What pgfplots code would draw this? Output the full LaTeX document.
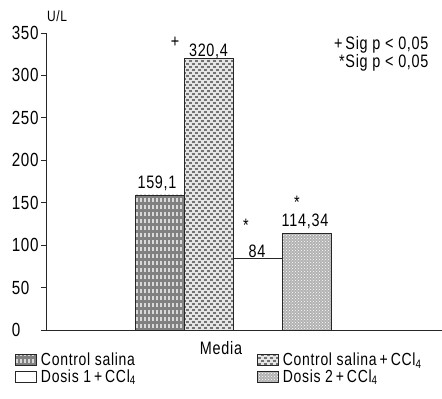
\documentclass[border=0pt]{standalone}
\usepackage{fontspec}
\setmainfont{Liberation Sans}[FakeStretch=0.8, LetterSpace=4]
\usepackage{pgfplots}
\pgfplotsset{compat=1.18}
\usetikzlibrary{patterns,calc}
\pgfdeclarepatternformonly{vdash}{\pgfqpoint{-1pt}{-1pt}}{\pgfqpoint{5pt}{8pt}}{\pgfqpoint{4pt}{7pt}}{%
  \pgfsetlinewidth{1.1pt}%
  \pgfpathmoveto{\pgfqpoint{1pt}{0.5pt}}\pgfpathlineto{\pgfqpoint{1pt}{5pt}}%
  \pgfusepath{stroke}}
\pgfdeclarepatternformonly{ddash}{\pgfqpoint{-1pt}{-1pt}}{\pgfqpoint{7pt}{7pt}}{\pgfqpoint{6pt}{6pt}}{%
  \pgfsetlinewidth{1.3pt}%
  \pgfpathmoveto{\pgfqpoint{0pt}{5pt}}\pgfpathlineto{\pgfqpoint{3pt}{5pt}}%
  \pgfpathmoveto{\pgfqpoint{3pt}{2pt}}\pgfpathlineto{\pgfqpoint{6pt}{2pt}}%
  \pgfusepath{stroke}}
\newcommand{\fs}{\fontsize{18}{18}\selectfont}
\begin{document}
\begin{tikzpicture}
\begin{axis}[
  name=ax,
  scale only axis,
  width=396pt, height=297pt,
  xmin=46, xmax=442, ymin=0, ymax=350,
  axis x line*=bottom, axis y line*=left,
  axis line style={-, line width=0.8pt, black!85},
  xtick=\empty,
  ytick={0,50,...,350},
  tick align=outside,
  major tick length=5pt,
  ytick style={line width=0.8pt, black!85},
  /pgf/number format/assume math mode=true,
  yticklabel style={font=\fontsize{19}{19}\selectfont, text width=28pt, align=left, inner sep=1pt},
  ybar, bar width=49pt, bar shift=0pt,
  clip=false,
  legend columns=2,
  legend cell align=left,
  legend style={at={(axis description cs:0,0)}, anchor=north west,
    xshift=-34pt, yshift=-20pt, draw=none, fill=none,
    font=\fontsize{17.5}{17.5}\selectfont,
    nodes={inner ysep=1pt, inner xsep=4pt}, row sep=0pt},
  mylegend/.style={legend image code/.code={\draw[##1] (0pt,-5.5pt) rectangle (21pt,5.5pt);}},
]
\addplot[draw=black!85, line width=0.8pt, fill=black!50,
  postaction={pattern=vdash, pattern color=black!15}, mylegend]
  coordinates {(160,159.1)};
\addlegendentry{\makebox[212pt][l]{Control salina}}
\addplot[draw=black!85, line width=0.8pt, fill=black!10,
  postaction={pattern=ddash, pattern color=black!55}, mylegend]
  coordinates {(209,320.4)};
\addlegendentry{Control salina\,+\,CCl\textsubscript{4}}
\addplot[draw=black!85, line width=0.8pt, fill=white, mylegend]
  coordinates {(258,84)};
\addlegendentry{\makebox[212pt][l]{Dosis 1\,+\,CCl\textsubscript{4}}}
\addplot[draw=black!85, line width=0.8pt, fill=black!30,
  postaction={pattern=crosshatch dots, pattern color=white}, mylegend]
  coordinates {(306.5,114.34)};
\addlegendentry{Dosis 2\,+\,CCl\textsubscript{4}}

\node[font=\fs, inner sep=0pt] at (axis cs:157,173) {159,1};
\node[font=\fs, inner sep=0pt] at (axis cs:175,339) {+};
\node[font=\fs, inner sep=0pt] at (axis cs:208.5,328) {320,4};
\node[font=\fs, inner sep=0pt] at (axis cs:246,123) {*};
\node[font=\fs, inner sep=0pt] at (axis cs:257,92.5) {84};
\node[font=\fs, inner sep=0pt] at (axis cs:297,150.5) {*};
\node[font=\fs, inner sep=0pt] at (axis cs:305,128.5) {114,34};
\node[font=\fs] at (axis cs:221,-21) {Media};
\node[font=\fontsize{15}{15}\selectfont] at (axis cs:57,370) {U/L};
\node[font=\fs, anchor=east] at (axis cs:432,336) {+\,Sig p < 0,05};
\node[font=\fs, anchor=east] at (axis cs:432,315) {*Sig p < 0,05};
\end{axis}
\pgfresetboundingbox
\path[use as bounding box] ($(ax.south west)+(-46pt,-69pt)$) rectangle ($(ax.south west)+(396pt,330pt)$);
\end{tikzpicture}
\end{document}
